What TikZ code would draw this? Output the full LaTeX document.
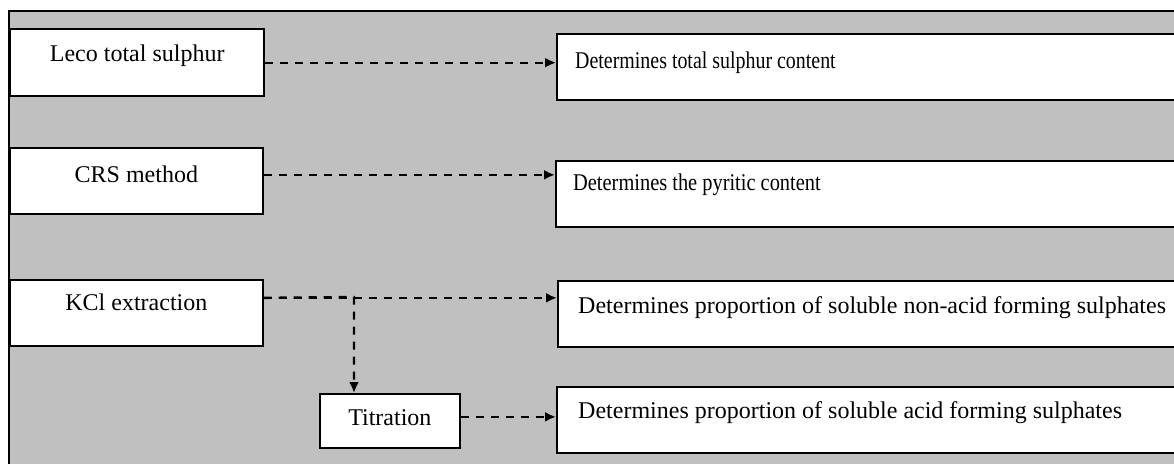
\documentclass[tikz,border=0pt]{standalone}
\usepackage{fontspec}
\setmainfont{Liberation Serif}
\newfontfamily\condfont[FakeStretch=0.83]{Liberation Serif}
\newfontfamily\semicondfont[FakeStretch=0.85]{Liberation Serif}
\usetikzlibrary{arrows.meta}
\definecolor{bggray}{RGB}{192,192,192}
\tikzset{
  box/.style={draw=black, fill=white, line width=1.7pt, anchor=north west, inner sep=0pt},
  lefttxt/.style={anchor=base, inner sep=0pt, font=\fontsize{24}{28}\selectfont},
  righttxt/.style={anchor=base west, inner sep=0pt, font=\fontsize{24}{28}\selectfont},
  arr/.style={line width=2.4pt, dash pattern=on 8pt off 7pt, -{Latex[length=11pt,width=10pt]}},
}
\begin{document}
\begin{tikzpicture}[x=1pt,y=-1pt]
\useasboundingbox (0,0) rectangle (1174,463);
\clip (0,0) rectangle (1174,463);
\draw[fill=bggray, line width=1.8pt] (9,11) rectangle (1200,500);
% left boxes
\node[box, line width=2.4pt, minimum width=254pt, minimum height=67pt] (leco) at (9,28) {};
\node[box, minimum width=253pt, minimum height=66pt] (crs) at (9,147) {};
\node[box, minimum width=253pt, minimum height=66pt] (kcl) at (9,279) {};
\node[box, minimum width=140pt, minimum height=54pt] (tit) at (319,393) {};
% right boxes
\node[box, minimum width=660pt, minimum height=66pt] (lecot) at (556,33) {};
\node[box, minimum width=660pt, minimum height=66pt] (crst) at (555,160) {};
\node[box, minimum width=660pt, minimum height=66pt] (kclt) at (557,280) {};
\node[box, minimum width=660pt, minimum height=66pt] (titt) at (556,386) {};
% texts
\node[lefttxt] (lecotx) at ([yshift=-33pt]leco.north) {Leco total sulphur};
\node[lefttxt] (crstx) at ([yshift=-35pt]crs.north) {CRS method};
\node[lefttxt] (kcltx) at ([yshift=-31pt]kcl.north) {KCl extraction};
\node[lefttxt] (tittx) at ([yshift=-32pt]tit.north) {Titration};
\node[righttxt, font=\condfont\fontsize{24}{28}\selectfont] (lecottx) at ([xshift=19pt,yshift=-35pt]lecot.north west) {Determines total sulphur content};
\node[righttxt, font=\semicondfont\fontsize{24}{28}\selectfont] (crsttx) at ([xshift=18pt,yshift=-30pt]crst.north west) {Determines the pyritic content};
\node[righttxt] (kclttx) at ([xshift=21pt,yshift=-33pt]kclt.north west) {Determines proportion of soluble non-acid forming sulphates};
\node[righttxt] (titttx) at ([xshift=22pt,yshift=-32pt]titt.north west) {Determines proportion of soluble acid forming sulphates};
% connectors
\draw[arr] (leco.east) -- (leco.east -| lecot.west);
\draw[arr] ([yshift=6pt]crs.east) -- ([yshift=6pt]crs.east -| crst.west);
\draw[arr] ([yshift=15pt]kcl.east) -- ([yshift=15pt]kcl.east -| kclt.west);
\coordinate (br) at (354,297);
\draw[arr] ([yshift=15pt]kcl.east) -- (br) -- (br |- tit.north);
\draw[arr] ([yshift=4pt]tit.east) -- ([yshift=4pt]tit.east -| titt.west);
\end{tikzpicture}
\end{document}
